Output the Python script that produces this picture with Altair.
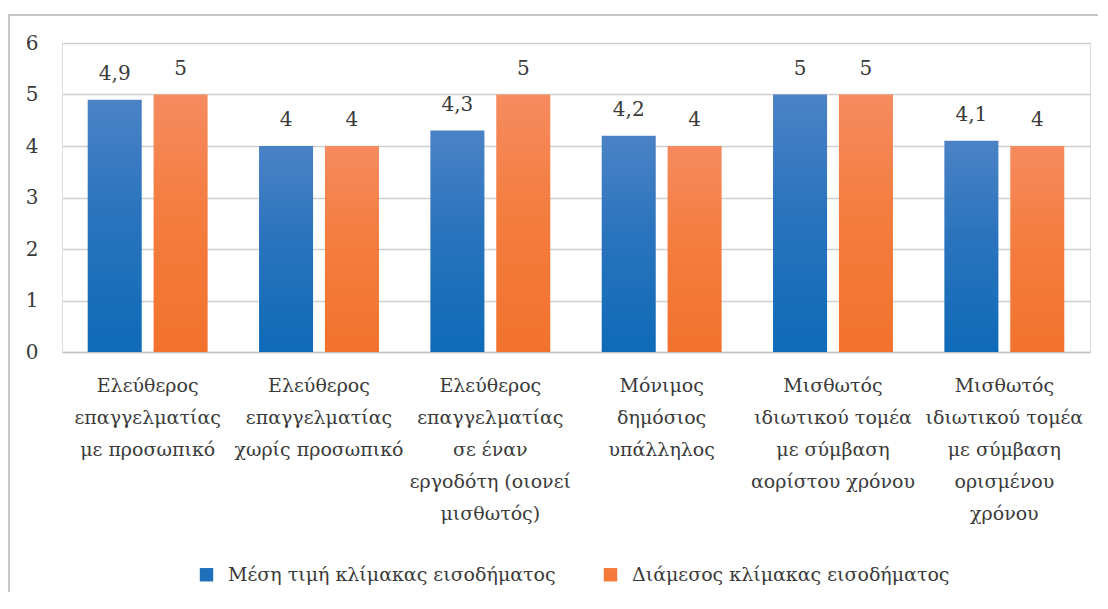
import altair as alt
import pandas as pd

categories = [
    ["Ελεύθερος", "επαγγελματίας", "με προσωπικό"],
    ["Ελεύθερος", "επαγγελματίας", "χωρίς προσωπικό"],
    ["Ελεύθερος", "επαγγελματίας", "σε έναν", "εργοδότη (οιονεί", "μισθωτός)"],
    ["Μόνιμος", "δημόσιος", "υπάλληλος"],
    ["Μισθωτός", "ιδιωτικού τομέα", "με σύμβαση", "αορίστου χρόνου"],
    ["Μισθωτός", "ιδιωτικού τομέα", "με σύμβαση", "ορισμένου", "χρόνου"],
]
series = ["Μέση τιμή κλίμακας εισοδήματος", "Διάμεσος κλίμακας εισοδήματος"]
mean_values = [4.9, 4, 4.3, 4.2, 5, 4.1]
median_values = [5, 4, 5, 4, 5, 4]

cat_keys = ["|".join(c) for c in categories]
rows = []
for k, m, d in zip(cat_keys, mean_values, median_values):
    rows.append({"cat": k, "series": series[0], "value": m, "label": f"{m:g}".replace(".", ",")})
    rows.append({"cat": k, "series": series[1], "value": d, "label": f"{d:g}".replace(".", ",")})
df = pd.DataFrame(rows)

FONT = "DejaVu Serif"
TXT = "#3a3a3a"

blue_grad = alt.Gradient(gradient="linear", x1=0, x2=0, y1=0, y2=1,
                         stops=[alt.GradientStop(color="#4b82c6", offset=0),
                                alt.GradientStop(color="#2a74bd", offset=0.45),
                                alt.GradientStop(color="#0f6ab7", offset=1)])
orange_grad = alt.Gradient(gradient="linear", x1=0, x2=0, y1=0, y2=1,
                           stops=[alt.GradientStop(color="#f68b5f", offset=0),
                                  alt.GradientStop(color="#f47d40", offset=0.45),
                                  alt.GradientStop(color="#f2722d", offset=1)])

x_enc = alt.X("cat:N", sort=cat_keys,
              scale=alt.Scale(paddingInner=0.3, paddingOuter=0.15),
              axis=alt.Axis(title=None, labelAngle=0, labelExpr="split(datum.label, '|')",
                            labelFont=FONT, labelFontSize=19, labelColor=TXT,
                            labelLineHeight=32, labelPadding=24, labelLimit=300,
                            ticks=False, domain=True, domainColor="#c6c6c6", domainWidth=1.5,
                            grid=False))
xo_enc = alt.XOffset("series:N", sort=series,
                     scale=alt.Scale(domain=series, paddingInner=0.18, paddingOuter=0))
y_enc = alt.Y("value:Q", scale=alt.Scale(domain=[0, 6], nice=False),
              axis=alt.Axis(title=None, values=[0, 1, 2, 3, 4, 5, 6], labelFont=FONT,
                            labelFontSize=20, labelColor=TXT, labelPadding=24,
                            ticks=False, domain=False, gridColor="#cfcfcf", gridWidth=1.5))

base = alt.Chart(df).encode(x=x_enc, xOffset=xo_enc, y=y_enc)

bars_blue = base.transform_filter(alt.datum.series == series[0]).mark_bar(fill=blue_grad)
bars_orange = base.transform_filter(alt.datum.series == series[1]).mark_bar(fill=orange_grad)

labels = base.mark_text(font=FONT, fontSize=20, color=TXT, baseline="alphabetic", dy=-20).encode(
    text="label:N")

legend_layer = base.mark_square(opacity=0, size=10).encode(
    color=alt.Color("series:N", sort=series,
                    scale=alt.Scale(domain=series, range=["#1f6fba", "#f47a3a"]),
                    legend=alt.Legend(title=None, orient="none", direction="horizontal",
                                      legendX=135, legendY=522, symbolType="square",
                                      symbolSize=180, symbolOpacity=1, symbolStrokeWidth=0,
                                      labelFont=FONT, labelFontSize=19, labelColor=TXT,
                                      labelOffset=12, columnPadding=45, labelLimit=500)))

border_data = alt.Data(values=[{"a": 1}])
top_border = alt.Chart(border_data).mark_rule(color="#c8c8c8", strokeWidth=2).encode(
    x=alt.value(-54), x2=alt.value(1036), y=alt.value(-28))
left_border = alt.Chart(border_data).mark_rule(color="#c8c8c8", strokeWidth=2).encode(
    x=alt.value(-53), y=alt.value(-29), y2=alt.value(549))

chart = alt.layer(top_border, left_border, bars_blue, bars_orange, labels, legend_layer).properties(
    width=1028, height=309,
    autosize=alt.AutoSizeParams(type="none"),
    padding={"left": 54, "top": 35, "right": 8, "bottom": 240},
).configure_view(stroke=None).configure(background="white")

chart.save("out.html", embed_options={"renderer": "svg", "actions": False})
